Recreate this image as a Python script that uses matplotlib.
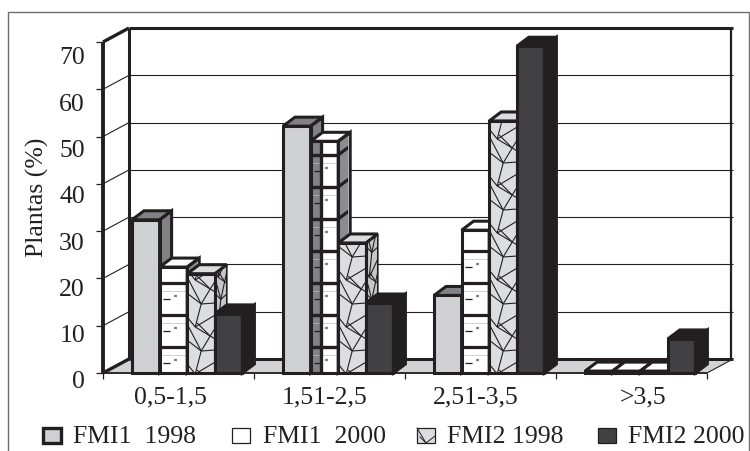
import numpy as np
import matplotlib
matplotlib.use('Agg')
import matplotlib.pyplot as plt
from matplotlib.patches import Polygon, Rectangle

categories = ['0,5-1,5', '1,51-2,5', '2,51-3,5', '>3,5']
series_names = ['FMI1  1998', 'FMI1  2000', 'FMI2 1998', 'FMI2 2000']
fmi1_1998 = [32.4, 52.2, 16.4, 0.4]
fmi1_2000 = [22.4, 49, 30.2, 0.4]
fmi2_1998 = [21, 27.5, 53.3, 0.4]
fmi2_2000 = [12.5, 14.8, 69.1, 7.2]
y_ticks = [0, 10, 20, 30, 40, 50, 60, 70]

plt.rcParams['font.family'] = ['Liberation Serif', 'DejaVu Serif']

W, H = 750, 452
fig = plt.figure(figsize=(W / 100, H / 100), dpi=100)
# zona frontal del grafico: x 103-707 px, y 374-43 px
ax = fig.add_axes([103 / W, 1 - 374 / H, 604 / W, 331 / H])
ax.set_xlim(0, 4)
ax.set_ylim(0, 70)
ax.axis('off')

px_x = 4 / 604
px_y = 70 / 331
DARK = '#231f20'
FONT = 18.5
wall_dx, wall_dy = 26 * px_x, 14 * px_y
bar_dx, bar_dy = 12 * px_x, 9 * px_y
bar_w = 27.6 * px_x
first_gap = 29 * px_x
label_shift = [-8, -5, -5, 12]


def poly(pts, fc='none', ec=DARK, lw=1.0, z=1):
    p = Polygon(pts, closed=True, fc=fc, ec=ec, lw=lw, zorder=z, clip_on=False, joinstyle='miter')
    ax.add_patch(p)
    return p


def line(xs, ys, lw, z=2, color=DARK):
    ax.plot(xs, ys, color=color, lw=lw, zorder=z, clip_on=False, solid_capstyle='butt')


def draw_walls():
    poly([(0, 0), (4, 0), (4 + wall_dx, wall_dy), (wall_dx, wall_dy)], fc='#d2d3d5', ec=DARK, lw=0.8, z=1)
    # pared de fondo
    line([wall_dx, wall_dx], [wall_dy, 70 + wall_dy], 2.2)
    line([4 + wall_dx - 2 * px_x] * 2, [wall_dy, 70 + wall_dy], 1.6)
    line([wall_dx, 4 + wall_dx], [wall_dy, wall_dy], 2.2)
    line([wall_dx, 4 + wall_dx], [70 + wall_dy] * 2, 2.2)
    for v in y_ticks[1:-1]:
        line([0, wall_dx], [v, v + wall_dy], 0.8)
        line([wall_dx, 4 + wall_dx], [v + wall_dy, v + wall_dy], 0.8)
    line([0, wall_dx], [0, wall_dy], 2.4)
    line([0, wall_dx], [70, 70 + wall_dy], 2.4)
    # ejes frontales
    line([0, 0], [0, 70], 2.8)
    line([0, 4], [0, 0], 1.2, z=40)
    for v in y_ticks:
        line([-7 * px_x, 0], [v, v], 0.9)
        # las etiquetas del original no caen justo sobre las marcas
        ax.text(-18 * px_x, v * 46.3 / 47.3 - 6 * px_y, str(v), ha='right', va='center_baseline',
                fontsize=FONT, color=DARK)
    for i in range(5):
        line([i, i], [0, -6 * px_y], 0.9)
    for i, c in enumerate(categories):
        ax.text(i + 0.5 + label_shift[i] * px_x, -21 * px_y, c, ha='center', va='center_baseline',
                fontsize=FONT, color=DARK)


def face_lines(clip, segs, lw, z, color=DARK):
    for (x0, y0), (x1, y1) in segs:
        ln, = ax.plot([x0, x1], [y0, y1], color=color, lw=lw, zorder=z, solid_capstyle='butt')
        ln.set_clip_path(clip)


def brick_pattern(x, v, z, tall):
    # ladrillos blancos con trazo grueso: frente y lateral
    front = poly([(x, 0), (x + bar_w, 0), (x + bar_w, v), (x, v)], fc='white', lw=0, ec='none', z=z)
    side = poly([(x + bar_w, 0), (x + bar_w + bar_dx, bar_dy), (x + bar_w + bar_dx, v + bar_dy), (x + bar_w, v)],
                fc='#8a8c8e', lw=0, ec='none', z=z)
    step = 32 * px_y
    levels = np.arange(26 * px_y, v + step, step)
    segs = [((x, yy), (x + bar_w, yy)) for yy in levels]
    side_segs = [((x + bar_w, yy), (x + bar_w + bar_dx, yy + bar_dy)) for yy in levels]
    face_lines(front, segs, 2.3, z + 0.1)
    face_lines(side, side_segs, 2.3, z + 0.1)
    face_lines(side, [((x + bar_w + bar_dx - 1 * px_x, 0), (x + bar_w + bar_dx - 1 * px_x, v + bar_dy))],
               1.4, z + 0.1, color='white')
    # marcas pequenas dentro de cada ladrillo
    for yy in levels[:-1] - 16 * px_y:
        face_lines(front, [((x + 3 * px_x, yy), (x + 10 * px_x, yy))], 0.9, z + 0.1)
        face_lines(front, [((x + 14 * px_x, yy + 3 * px_y), (x + 17 * px_x, yy + 3 * px_y))], 1.6, z + 0.1,
                   color='#808285')
        face_lines(front, [((x, yy + 8 * px_y), (x + bar_w, yy + 8 * px_y))], 0.5, z + 0.1, color='#bcbec0')
    if tall:
        ax.add_patch(Rectangle((x, 0), 9 * px_x, v, fc='#808285', ec='none', zorder=z + 0.05, clip_on=False))
        line([x + 10 * px_x] * 2, [0, v], 2.4, z=z + 0.1)
        face_lines(front, segs, 2.3, z + 0.1)


# baldosa del trama tipo mosaico, en px (y hacia abajo), periodo 47
TILE = [((1, 0), (14, 25)), ((14, 25), (1, 15)), ((23, 10), (14, 25)), ((14, 25), (8, 48)),
        ((8, 48), (28, 60)), ((8, 48), (0, 38)), ((14, 25), (28, 24)), ((23, 10), (28, 2)),
        ((8, 48), (28, 36)), ((23, 10), (10, -3)), ((1, 15), (0, 38))]


def mosaic(x, v, z):
    front = poly([(x, 0), (x + bar_w, 0), (x + bar_w, v), (x, v)], fc='#dcddde', ec='none', lw=0, z=z)
    side = poly([(x + bar_w, 0), (x + bar_w + bar_dx, bar_dy), (x + bar_w + bar_dx, v + bar_dy), (x + bar_w, v)],
                fc='#c6c7c9', ec='none', lw=0, z=z)
    segs = []
    segs_side = []
    for k in np.arange(-47, v / px_y + 94, 47):
        for (a, b), (c, d) in TILE:
            segs.append(((x + a * px_x, (k - b) * px_y), (x + c * px_x, (k - d) * px_y)))
            skew_a = x + bar_w + a / 28 * bar_dx
            skew_c = x + bar_w + c / 28 * bar_dx
            segs_side.append(((skew_a, (k - b) * px_y + a / 28 * bar_dy), (skew_c, (k - d) * px_y + c / 28 * bar_dy)))
    face_lines(front, segs, 0.8, z + 0.1)
    face_lines(side, segs_side, 0.8, z + 0.1)


def draw_bar(x, v, style, z):
    fronts = {0: '#cfd0d2', 3: '#414042'}
    sides = {0: '#808285', 3: DARK}
    tops = {0: '#808285', 3: DARK}
    lw = 2.2
    if style == 1:
        brick_pattern(x, v, z, v > 40)
        topc = 'white'
    elif style == 2:
        mosaic(x, v, z)
        topc = '#dcddde'
    else:
        poly([(x, 0), (x + bar_w, 0), (x + bar_w, v), (x, v)], fc=fronts[style], ec='none', lw=0, z=z)
        poly([(x + bar_w, 0), (x + bar_w + bar_dx, bar_dy), (x + bar_w + bar_dx, v + bar_dy), (x + bar_w, v)],
             fc=sides[style], ec='none', lw=0, z=z)
        topc = tops[style]
    if v < 1:
        topc = 'white'
    # contornos
    poly([(x, v), (x + bar_w, v), (x + bar_w + bar_dx, v + bar_dy), (x + bar_dx, v + bar_dy)],
         fc=topc, ec=DARK, lw=lw, z=z + 0.2)
    poly([(x, 0), (x + bar_w, 0), (x + bar_w, v), (x, v)], fc='none', ec=DARK, lw=lw, z=z + 0.2)
    poly([(x + bar_w, 0), (x + bar_w + bar_dx, bar_dy), (x + bar_w + bar_dx, v + bar_dy), (x + bar_w, v)],
         fc='none', ec=DARK, lw=lw if style != 2 else 1.2, z=z + 0.2)


draw_walls()
all_series = [fmi1_1998, fmi1_2000, fmi2_1998, fmi2_2000]
for g in range(len(categories)):
    for s, vals in enumerate(all_series):
        draw_bar(g + first_gap + s * bar_w, vals[g], s, 5 + g * 5 + s)

fig.text(37 / W, 1 - 197 / H, 'Plantas (%)', rotation=90, ha='center', va='center', fontsize=FONT, color=DARK)

# leyenda y marco en coordenadas de figura
leg_x = [43, 232, 417, 598]
txt_x = [73, 263, 447, 628]
colors = ['#cfd0d2', 'white', '#dcddde', '#414042']
lws = [2.4, 0.9, 0.9, 0.9]
for i, name in enumerate(series_names):
    fig.add_artist(Rectangle((leg_x[i] / W, 1 - 444 / H), 18 / W, 15 / H, transform=fig.transFigure,
                             fc=colors[i], ec=DARK, lw=lws[i]))
    fig.text(txt_x[i] / W, 1 - 435 / H, name, ha='left', va='center_baseline', fontsize=FONT, color=DARK)
# trama de la muestra de FMI2 1998
for (a, b), (c, d) in [((0, 0), (9, 15)), ((9, 15), (18, 8)), ((9, 15), (3, 9))]:
    fig.add_artist(plt.Line2D([(leg_x[2] + a) / W, (leg_x[2] + c) / W],
                              [1 - (429 + b) / H, 1 - (429 + d) / H], color=DARK, lw=0.7))

fig.add_artist(plt.Line2D([8 / W, 8 / W, 749 / W, 749 / W], [0, 1 - 13 / H, 1 - 13 / H, 0], color='#6d6e71', lw=1.0))

fig.savefig('out.png', dpi=100)
